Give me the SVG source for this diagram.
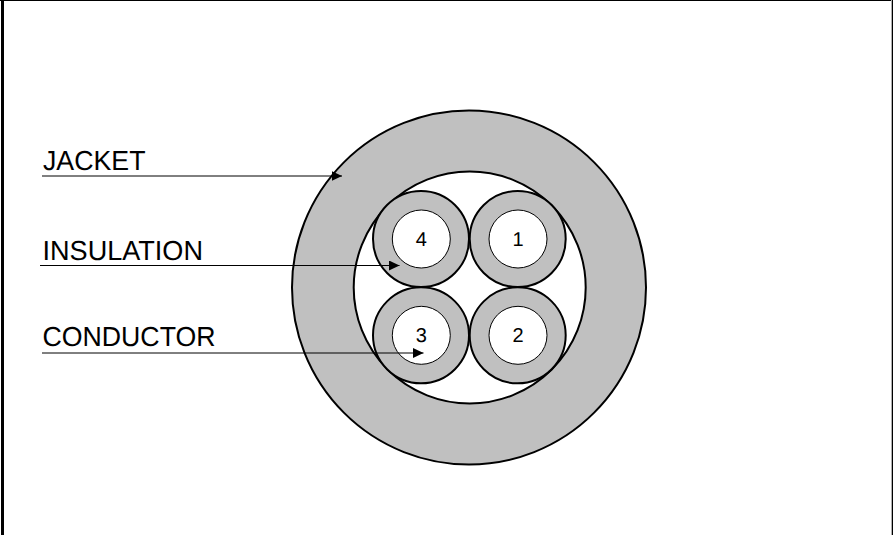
<svg xmlns="http://www.w3.org/2000/svg" width="893" height="535" viewBox="0 0 893 535">
<style>
.o{fill:#c0c0c0;stroke:#000;stroke-width:2}
.w{fill:#fff;stroke:#000;stroke-width:2}
.c{fill:#fff;stroke:#000;stroke-width:1}
.l{stroke:#000;stroke-width:1;fill:none;marker-end:url(#a)}
text{font-family:"Liberation Sans",Arial,sans-serif;fill:#000;text-rendering:geometricPrecision}
.t{font-size:27.5px}
.n{font-size:20px;text-anchor:middle}
</style>
<defs><marker id="a" markerUnits="userSpaceOnUse" markerWidth="11" markerHeight="10" refX="10.5" refY="5" orient="auto"><path d="M0 0L10.5 5L0 10z" fill="#000"/></marker></defs>
<rect x="0" y="0" width="893" height="535" fill="#fff"/>
<g id="frame"><path d="M1 0H4V535H1z" fill="#000"/><rect x="0" y="0" width="893" height="1" fill="#000"/><rect x="891" y="0" width="1" height="535" fill="#b0b0b0"/><rect x="892" y="0" width="1" height="535" fill="#000"/></g>
<g id="jacket"><circle class="o" cx="469" cy="287.5" r="177"/><circle class="w" cx="469.7" cy="287.5" r="116"/></g>
<g id="core4"><circle class="o" cx="421" cy="239" r="48"/><circle class="c" cx="421.3" cy="239" r="29"/><text class="n" x="421.3" y="246">4</text></g>
<g id="core1"><circle class="o" cx="517.7" cy="239" r="48"/><circle class="c" cx="518" cy="239" r="29"/><text class="n" x="518" y="246">1</text></g>
<g id="core3"><circle class="o" cx="421" cy="335.3" r="48"/><circle class="c" cx="421.3" cy="335.3" r="29"/><text class="n" x="421.3" y="342">3</text></g>
<g id="core2"><circle class="o" cx="517.7" cy="335.3" r="48"/><circle class="c" cx="518" cy="335.3" r="29"/><text class="n" x="518" y="342">2</text></g>
<g id="labels"><text class="t" x="43" y="169.5" textLength="102.5" lengthAdjust="spacingAndGlyphs">JACKET</text><text class="t" x="42.5" y="260" textLength="160.5" lengthAdjust="spacingAndGlyphs">INSULATION</text><text class="t" x="42.5" y="345.5" textLength="173" lengthAdjust="spacingAndGlyphs">CONDUCTOR</text></g>
<g id="connectors">
<path class="l" d="M42 176H342"/>
<path class="l" d="M40 265.5H399.5"/>
<path class="l" d="M42 353H423.5"/>
</g>
</svg>
